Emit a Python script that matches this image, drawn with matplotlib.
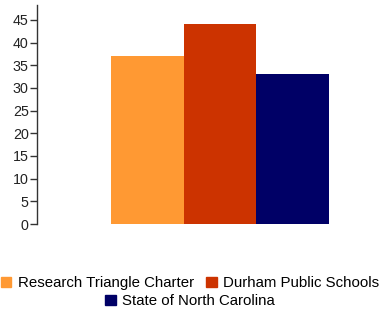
import matplotlib
matplotlib.use("Agg")
import matplotlib.pyplot as plt
from matplotlib.patches import Patch

plt.rcParams['font.family'] = ['Liberation Sans', 'DejaVu Sans']

series = ["Research Triangle Charter", "Durham Public Schools", "State of North Carolina"]
values = [37, 44, 33]
colors = ["#FF9933", "#CC3300", "#000066"]
yticks = [0, 5, 10, 15, 20, 25, 30, 35, 40, 45]

fig = plt.figure(figsize=(3.8, 3.13), dpi=100)
ax = fig.add_axes([37/380, (313-224)/313, (380-37)/380, (224-5)/313])

for i, (s, v, c) in enumerate(zip(series, values, colors)):
    ax.bar(i, v, width=1.0, color=c, label=s)

ax.set_xlim(-1.518, 3.2)
ax.set_ylim(0, 48.3)
ax.set_yticks(yticks)
ax.set_yticklabels([str(t) for t in yticks], fontsize=10.3, color="#222222")
ax.set_xticks([])
for sp in ["top", "right", "bottom"]:
    ax.spines[sp].set_visible(False)
ax.spines["left"].set_color("#333333")
ax.spines["left"].set_linewidth(1.0)
ax.tick_params(axis="y", length=5, width=1, color="#333333", pad=1)

h = [Patch(color=c) for c in colors]
leg1 = fig.legend(h[:2], series[:2], loc="center", bbox_to_anchor=(0.5, (313-283)/313),
                  ncol=2, frameon=False, fontsize=10.8, handlelength=0.7, handleheight=0.7,
                  handletextpad=0.45, columnspacing=0.8, borderpad=0, borderaxespad=0)
leg2 = fig.legend(h[2:], series[2:], loc="center", bbox_to_anchor=(0.5, (313-301)/313),
                  ncol=1, frameon=False, fontsize=10.8, handlelength=0.7, handleheight=0.7,
                  handletextpad=0.45, borderpad=0, borderaxespad=0)

fig.savefig("out.png", dpi=100)
